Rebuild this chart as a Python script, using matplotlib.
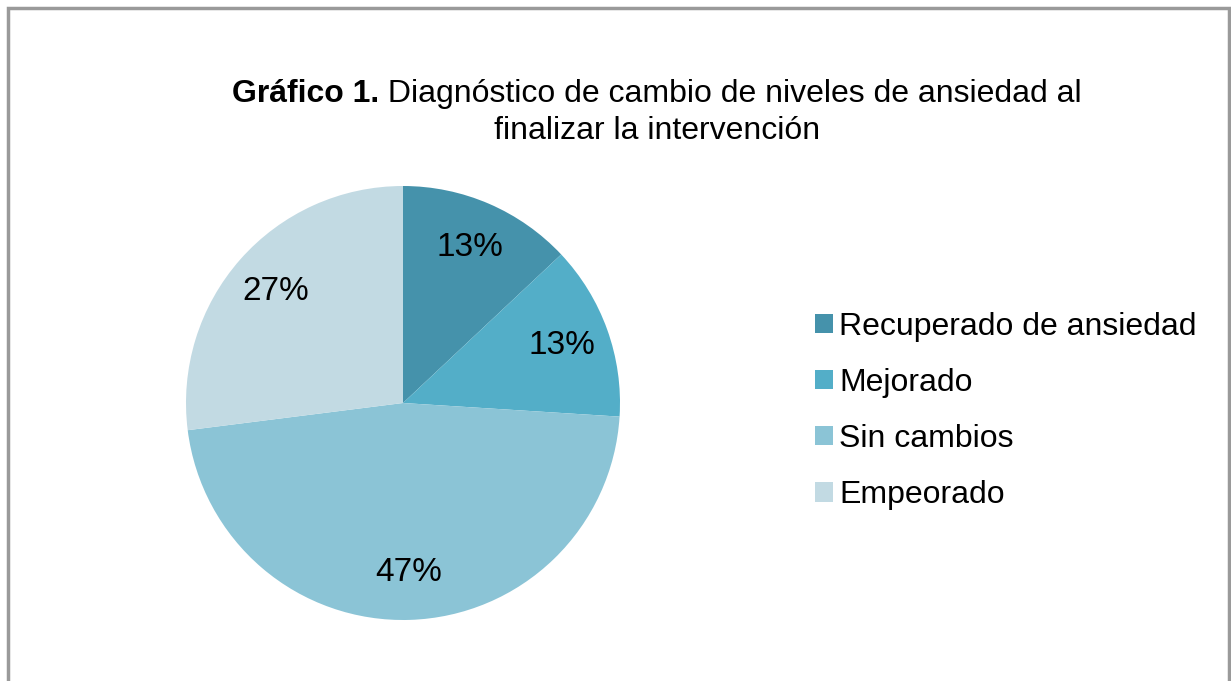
import matplotlib.pyplot as plt
from matplotlib.patches import Rectangle

plt.rcParams['font.family'] = ['Liberation Sans', 'DejaVu Sans']

## datos del grafico (porcentajes)
categorias = ['Recuperado de ansiedad', 'Mejorado', 'Sin cambios', 'Empeorado']
porcentajes = [13, 13, 47, 27]
colores = ['#4592ab', '#53aec8', '#8bc4d6', '#c2dae3']

titulo_negrita = 'Gráfico 1.'
titulo_resto = ' Diagnóstico de cambio de niveles de ansiedad al'
titulo_linea2 = 'finalizar la intervención'

fig = plt.figure(figsize=(12.31, 6.81), dpi=100)

## marco gris alrededor del grafico
fig.patches.append(Rectangle((8 / 1231, -0.05), 1221 / 1231, 1.05 - 8 / 681,
                             transform=fig.transFigure, fill=False,
                             edgecolor='#9a9a9a', linewidth=2.5))

ax = fig.add_axes([186 / 1231, 61 / 681, 434 / 1231, 434 / 681])
wedges, textos, pcts = ax.pie(porcentajes, colors=colores, startangle=90, counterclock=False,
                              autopct='%1.0f%%', pctdistance=0.78, radius=1,
                              textprops={'fontsize': 24, 'color': 'black'})
ax.set_xlim(-1, 1)
ax.set_ylim(-1, 1)
ax.set_aspect('equal')

## titulo: la primera linea tiene una parte en negrita, se centran juntas
tam_titulo = 23
x_centro = 657 / 1231
y1 = 1 - 94 / 681
y2 = 1 - 131 / 681
t_neg = fig.text(0, y1, titulo_negrita, fontsize=tam_titulo, fontweight='bold', va='center')
t_res = fig.text(0, y1, titulo_resto, fontsize=tam_titulo, va='center')
renderer = fig.canvas.get_renderer()
w_neg = t_neg.get_window_extent(renderer).width / fig.bbox.width
w_res = t_res.get_window_extent(renderer).width / fig.bbox.width
x_ini = x_centro - (w_neg + w_res) / 2
t_neg.set_x(x_ini)
t_res.set_x(x_ini + w_neg)
fig.text(x_centro, y2, titulo_linea2, fontsize=tam_titulo, ha='center', va='center')

leg = fig.legend(wedges, categorias, loc='center left', bbox_to_anchor=(815 / 1231, 1 - 411 / 681),
                 frameon=False, fontsize=23, handlelength=0.55, handleheight=0.55,
                 handletextpad=0.2, labelspacing=0.82, borderpad=0, borderaxespad=0)

fig.savefig('out.png', dpi=100)
